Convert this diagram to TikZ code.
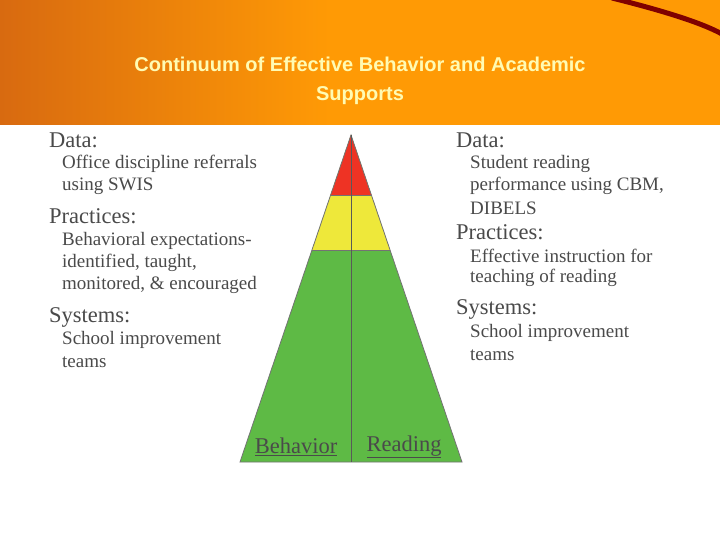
\documentclass[tikz,border=0pt]{standalone}
\usepackage{fontspec}
\setmainfont{Liberation Serif}
\newfontfamily\titlefont{Liberation Sans}
\usetikzlibrary{calc}
\definecolor{orA}{HTML}{D86A10}
\definecolor{orB}{HTML}{FF9A05}
\definecolor{grn}{HTML}{5EBA45}
\definecolor{yel}{HTML}{EEE83A}
\definecolor{rd}{HTML}{EE3324}
\definecolor{txt}{HTML}{4A4A4A}
\begin{document}
\begin{tikzpicture}[x=1pt,y=-1pt,
  hd/.style={anchor=west,inner sep=0pt,text=txt,font=\fontsize{22.5}{24}\selectfont},
  it/.style={anchor=west,inner sep=0pt,text=txt,font=\fontsize{19}{21}\selectfont},
  lab/.style={anchor=center,inner sep=0pt,text=txt,font=\fontsize{22.5}{24}\selectfont}]
\useasboundingbox (0,0) rectangle (720,540);
\fill[white] (0,0) rectangle (720,540);
\shade[left color=orA, right color=orB] (0,0) rectangle (330,125);
\fill[orB] (329,0) rectangle (720,125);
\draw[red!50!black,line width=5pt] (612,-2) .. controls (660,10) and (700,22) .. (722,34);
\node[inner sep=0pt,align=center,text=yellow!30,font=\titlefont\bfseries\fontsize{20}{29}\selectfont] (title) at (360,81) {Continuum of Effective Behavior and Academic\\Supports};
% triangle
\coordinate (apex) at (351,135);
\coordinate (bl) at (240,462);
\coordinate (br) at (462,462);
\fill[grn] (apex) -- (bl) -- (br) -- cycle;
\fill[yel] (apex) -- ($(apex)!0.352!(bl)$) -- ($(apex)!0.352!(br)$) -- cycle;
\fill[rd] (apex) -- ($(apex)!0.184!(bl)$) -- ($(apex)!0.184!(br)$) -- cycle;
\draw[black!55,line width=0.6pt] ($(apex)!0.184!(bl)$) -- ($(apex)!0.184!(br)$);
\draw[black!55,line width=0.6pt] ($(apex)!0.352!(bl)$) -- ($(apex)!0.352!(br)$);
\draw[black!55,line width=0.8pt] (apex) -- (bl) -- (br) -- cycle;
\coordinate (mb) at (351,462);
\draw[black!65,line width=0.9pt] (apex) -- (mb);
\node[lab] (beh) at (296,447) {\underline{Behavior}};
\node[lab] (rea) at (404,447) {\underline{Reading}};
% left
\node[hd] (ld) at (49,140) {Data:};
\node[it] (l1) at (62,164) {Office discipline referrals};
\node[it] (l2) at (62,186) {using SWIS};
\node[hd] (lp) at (49,216) {Practices:};
\node[it] (l3) at (62,241) {Behavioral expectations-};
\node[it] (l4) at (62,263) {identified, taught,};
\node[it] (l5) at (62,285) {monitored, \& encouraged};
\node[hd] (ls) at (49,317) {Systems:};
\node[it] (l6) at (62,340) {School improvement};
\node[it] (l7) at (62,362) {teams};
% right
\node[hd] (rd) at (456,140) {Data:};
\node[it] (r1) at (470,164) {Student reading};
\node[it] (r2) at (470,186) {performance using CBM,};
\node[it] (r3) at (470,208) {DIBELS};
\node[hd] (rp) at (456,232) {Practices:};
\node[it] (r4) at (470,256) {Effective instruction for};
\node[it] (r5) at (470,278) {teaching of reading};
\node[hd] (rs) at (456,309) {Systems:};
\node[it] (r6) at (470,333) {School improvement};
\node[it] (r7) at (470,355) {teams};
\end{tikzpicture}
\end{document}
